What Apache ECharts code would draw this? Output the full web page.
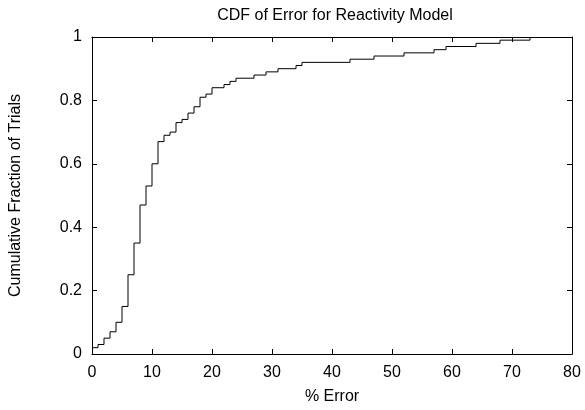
<!DOCTYPE html>
<html>
<head>
<meta charset="utf-8">
<script src="https://cdn.jsdelivr.net/npm/echarts@6/dist/echarts.min.js"></script>
<style>
html,body{margin:0;padding:0;background:#fff;}
#chart{width:585px;height:410px;}
</style>
</head>
<body>
<div id="chart"></div>
<script>
const titleText = 'CDF of Error for Reactivity Model';
const xName = '% Error';
const yName = 'Cumulative Fraction of Trials';
const errors =    [0, 1, 2, 3, 4, 5, 6, 7, 8, 9, 10, 11, 12, 13, 14, 15, 16, 17, 18, 19, 20, 22, 23, 24, 27, 29, 31, 34, 35, 43, 47, 52, 57, 59, 64, 68, 73];
const fractions = [0.02, 0.03, 0.05, 0.07, 0.10, 0.15, 0.25, 0.35, 0.47, 0.53, 0.60, 0.67, 0.69, 0.70, 0.73, 0.74, 0.76, 0.78, 0.81, 0.82, 0.84, 0.85, 0.86, 0.87, 0.88, 0.89, 0.90, 0.91, 0.92, 0.93, 0.94, 0.95, 0.96, 0.97, 0.98, 0.99, 1.00];
const xTicks = {min: 0, max: 80, interval: 10};
const yTicks = {min: 0, max: 1, interval: 0.2};

const font = 'Liberation Sans, Arial, Helvetica, sans-serif';
const chart = echarts.init(document.getElementById('chart'), null, {renderer: 'canvas'});
const axisLine = {show: true, onZero: false, lineStyle: {color: '#000', width: 1}};
const tick = {show: true, inside: true, length: 5, lineStyle: {color: '#000', width: 1}};
const lbl = {color: '#000', fontSize: 16, fontFamily: font};
chart.setOption({
  animation: false,
  backgroundColor: '#fff',
  title: {
    text: titleText, left: 330, top: 3, textAlign: 'center',
    textStyle: {color: '#000', fontSize: 16, fontWeight: 'normal', fontFamily: font}
  },
  grid: {left: 87, right: 13, top: 37, bottom: 53.5, containLabel: false},
  xAxis: [
    {type: 'value', position: 'bottom', min: xTicks.min, max: xTicks.max, interval: xTicks.interval,
     name: xName, nameLocation: 'middle', nameGap: 35, nameTextStyle: lbl,
     axisLine: axisLine, axisTick: tick, splitLine: {show: false},
     axisLabel: Object.assign({margin: 11}, lbl)},
    {type: 'value', position: 'top', min: xTicks.min, max: xTicks.max, interval: xTicks.interval,
     axisLine: axisLine, axisTick: tick, splitLine: {show: false}, axisLabel: {show: false}}
  ],
  yAxis: [
    {type: 'value', position: 'left', min: yTicks.min, max: yTicks.max, interval: yTicks.interval,
     name: yName, nameLocation: 'middle', nameGap: 68, nameRotate: 90, nameTextStyle: lbl,
     axisLine: axisLine, axisTick: tick, splitLine: {show: false},
     axisLabel: Object.assign({margin: 10}, lbl)},
    {type: 'value', position: 'right', min: yTicks.min, max: yTicks.max, interval: yTicks.interval,
     axisLine: axisLine, axisTick: tick, splitLine: {show: false}, axisLabel: {show: false}}
  ],
  series: [{
    type: 'line', step: 'end', xAxisIndex: 0, yAxisIndex: 0,
    data: errors.map((e, i) => [e, fractions[i]]),
    showSymbol: false, symbol: 'none',
    lineStyle: {color: '#000', width: 1}
  }]
});
</script>
</body>
</html>
